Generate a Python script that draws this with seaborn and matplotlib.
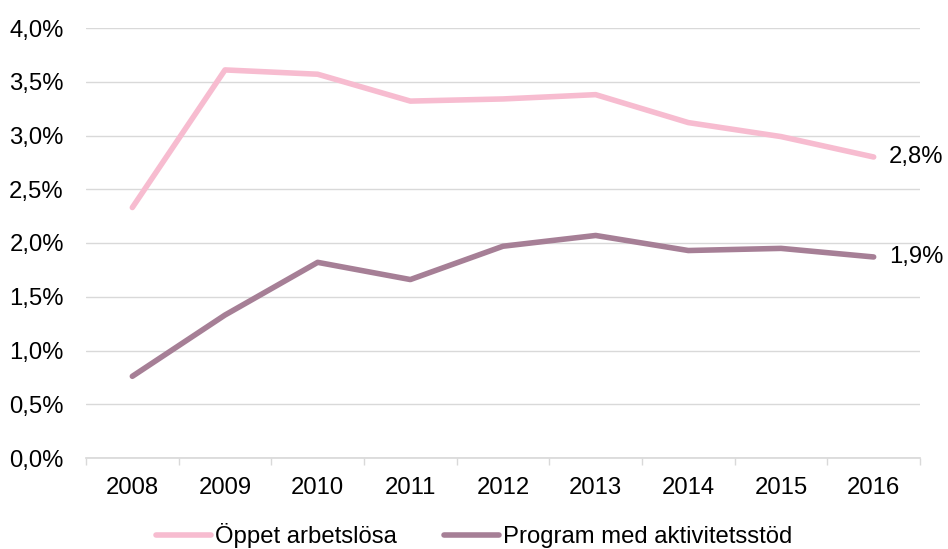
import numpy as np
import pandas as pd
import seaborn as sns
import matplotlib.pyplot as plt
from matplotlib.ticker import FixedLocator, FuncFormatter

years = ["2008", "2009", "2010", "2011", "2012", "2013", "2014", "2015", "2016"]
oppet = [2.33, 3.61, 3.57, 3.32, 3.34, 3.38, 3.12, 2.99, 2.80]
program = [0.76, 1.33, 1.82, 1.66, 1.97, 2.07, 1.93, 1.95, 1.87]
series_names = ["Öppet arbetslösa", "Program med aktivitetsstöd"]
colors = ["#F7BCD0", "#A67F96"]

FS = 17.2

sns.set_theme(style="white")
plt.rcParams['font.family'] = ['Liberation Sans', 'DejaVu Sans']
plt.rcParams['font.size'] = FS
plt.rcParams['text.color'] = 'black'

df = pd.DataFrame({
    "pos": list(range(len(years))) * 2,
    "value": oppet + program,
    "serie": [series_names[0]] * len(years) + [series_names[1]] * len(years),
})

fig = plt.figure(figsize=(9.48, 5.49), dpi=100)
ax = fig.add_axes([86 / 948, 1 - 458 / 549, (920 - 86) / 948, (458 - 28) / 549])

sns.lineplot(data=df, x="pos", y="value", hue="serie", palette=colors,
             linewidth=4, ax=ax, legend=False, solid_capstyle="round")

ax.set_xlim(-0.5, len(years) - 0.5)
ax.set_ylim(0, 4.0)
ax.set_yticks(np.arange(0, 4.01, 0.5))
ax.yaxis.set_major_formatter(FuncFormatter(lambda v, p: f"{v:.1f}%".replace(".", ",")))
ax.yaxis.grid(True, color="#D9D9D9", linewidth=1)
ax.tick_params(axis="y", length=0, labelsize=FS, colors="black", pad=16)

ax.set_xticks(range(len(years)))
ax.set_xticklabels(years, fontsize=FS)
ax.xaxis.set_minor_locator(FixedLocator(np.arange(-0.5, len(years), 1)))
ax.tick_params(axis="x", which="major", length=0, pad=14, colors="black")
ax.tick_params(axis="x", which="minor", length=5, color="#D9D9D9", width=1, bottom=True)
ax.set_xlabel("")
ax.set_ylabel("")

for s in ["top", "right", "left"]:
    ax.spines[s].set_visible(False)
ax.spines["bottom"].set_color("#D9D9D9")

# end labels
ax.annotate(f"{oppet[-1]:.1f}%".replace(".", ","), (len(years) - 1, oppet[-1]),
            xytext=(11, 0), textcoords="offset points", va="center", ha="left",
            fontsize=FS, color="black")
ax.annotate(f"{program[-1]:.1f}%".replace(".", ","), (len(years) - 1, program[-1]),
            xytext=(11, 0), textcoords="offset points", va="center", ha="left",
            fontsize=FS, color="black")

handles = [plt.Line2D([0], [0], color=c, linewidth=4, solid_capstyle="round") for c in colors]
leg = fig.legend(handles, series_names, loc="center", bbox_to_anchor=(0.5, 1 - 536 / 549),
                 ncol=2, frameon=False, fontsize=FS, handlelength=2.3, handletextpad=0.17,
                 columnspacing=1.95, borderpad=0, borderaxespad=0)
for t in leg.get_texts():
    t.set_color("black")

fig.savefig("out.png", dpi=100)
